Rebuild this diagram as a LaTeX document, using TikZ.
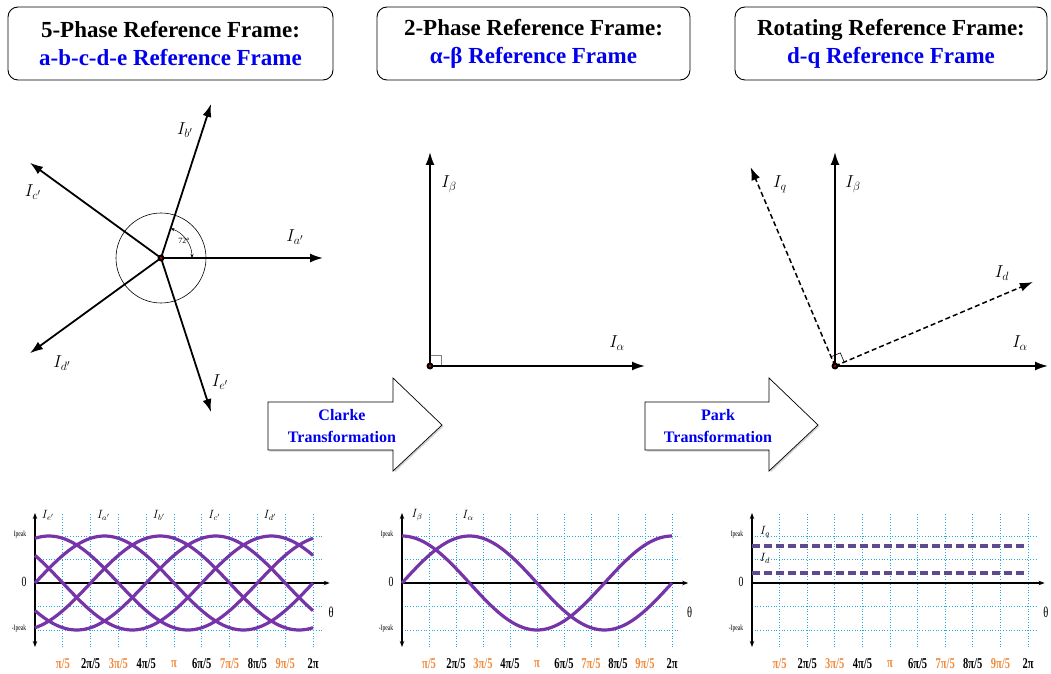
\documentclass[tikz,border=0pt]{standalone}
\usepackage{fontspec}
\setmainfont{Liberation Serif}
\newfontfamily\estrecha[FakeStretch=0.7]{Liberation Serif}
\usepackage{tikz}
\usetikzlibrary{arrows.meta,shadows}
\definecolor{azultit}{HTML}{0000EE}
\definecolor{morado}{HTML}{7534A8}
\definecolor{moradodq}{HTML}{5E4A8E}
\definecolor{celeste}{HTML}{1FA8E0}
\definecolor{naranja}{HTML}{F0883A}
\tikzset{
  marco/.style={rectangle, rounded corners=10pt, draw, line width=0.9pt,
    minimum height=73pt, align=center, inner sep=2pt,
    font=\bfseries\fontsize{23}{28}\selectfont},
  fasor/.style={-{Latex[length=13pt,width=9pt]}, line width=1.8pt},
  fasordq/.style={fasor, line width=1.5pt, dash pattern=on 5pt off 3pt},
  etiq/.style={font=\fontsize{18}{20}\selectfont},
  flechagorda/.style={draw, line width=0.7pt, fill=white,
    drop shadow={shadow xshift=1.5pt, shadow yshift=-1.5pt, fill=gray!70}},
  txtflecha/.style={align=center, text=azultit,
    font=\bfseries\fontsize{16}{22}\selectfont},
  rejilla/.style={celeste, line width=0.7pt, dotted},
  eje/.style={line width=1.5pt},
  curva/.style={morado, line width=3.2pt},
  nivel/.style={moradodq, line width=4pt, dash pattern=on 8pt off 4pt},
  marca/.style={font=\estrecha\bfseries\fontsize{15}{17}\selectfont},
  etiqg/.style={font=\fontsize{12}{14}\selectfont},
  pico/.style={font=\estrecha\fontsize{8}{9}\selectfont},
}

\begin{document}
\begin{tikzpicture}[x=1pt, y=1pt]
    \useasboundingbox (0,0) rectangle (1051,673);
    % Titulos
    \node[marco, minimum width=325pt] (t5) at (170.5,629.5)
      {5-Phase Reference Frame:\\\textcolor{azultit}{a-b-c-d-e Reference Frame}};
    \node[marco, minimum width=313pt] (t2) at (533.5,629.5)
      {2-Phase Reference Frame:\\\textcolor{azultit}{α-β Reference Frame}};
    \node[marco, minimum width=312pt] (trot) at (891,629.5)
      {Rotating Reference Frame:\\\textcolor{azultit}{d-q Reference Frame}};

    % Fasores 5 fases
    \coordinate (o1) at (161,415);
    \draw[line width=0.6pt] (o1) circle[radius=45];
    \foreach \k/\nm in {0/a,1/b,2/c,3/d,4/e}{
      \path (o1) ++(\k*72:162) coordinate (p\nm);
      \draw[fasor] (o1) -- (p\nm);
    }
    \draw[line width=0.5pt, {Stealth[length=4pt]}-{Stealth[length=4pt]}]
      ([shift={(0:31)}]o1) arc[start angle=0, end angle=72, radius=31];
    \node[font=\fontsize{8}{9}\selectfont] (ang) at (184,432) {72°};
    \node[etiq] (la1) at (295,436) {$I_{a'}$};
    \node[etiq] (lb1) at (185,543) {$I_{b'}$};
    \node[etiq] (lc1) at (33,481) {$I_{c'}$};
    \node[etiq] (ld1) at (62,310) {$I_{d'}$};
    \node[etiq] (le1) at (220,291) {$I_{e'}$};
    \fill (o1) circle[radius=3.5];
    \fill[red] (o1) circle[radius=1.2];

    % Marco alfa-beta
    \coordinate (o2) at (430,307);
    \coordinate (b2) at (430,521);
    \coordinate (a2) at (645,307);
    \draw[gray, line width=0.5pt] (o2) rectangle ++(11,11);
    \draw[fasor] (o2) -- (b2);
    \draw[fasor] (o2) -- (a2);
    \node[etiq] (lb2) at (449,489) {$I_\beta$};
    \node[etiq] (la2) at (617,330) {$I_\alpha$};
    \fill (o2) circle[radius=3.5];
    \fill[red] (o2) circle[radius=1.2];

    % Marco d-q
    \coordinate (o3) at (835,307);
    \coordinate (b3) at (835,521);
    \coordinate (a3) at (1048,307);
    \path (o3) ++(23:215) coordinate (d3);
    \path (o3) ++(113:216) coordinate (q3);
    \draw[line width=0.6pt] ([shift={(23:10)}]o3) -- ++(113:10) -- ++(203:10);
    \draw[fasor] (o3) -- (b3);
    \draw[fasor] (o3) -- (a3);
    \draw[fasordq] (o3) -- (d3);
    \draw[fasordq] (o3) -- (q3);
    \node[etiq] (lq3) at (780,489) {$I_q$};
    \node[etiq] (lb3) at (853,489) {$I_\beta$};
    \node[etiq] (ld3) at (1002,400) {$I_d$};
    \node[etiq] (la3) at (1020,330) {$I_\alpha$};
    \fill (o3) circle[radius=3.5];
    \fill[red] (o3) circle[radius=1.2];

    % Flechas de transformacion
    \draw[flechagorda] (268,223) -- (393,223) -- (393,202) -- (442,248)
      -- (393,295) -- (393,271) -- (268,271) -- cycle;
    \node[txtflecha] (clarke) at (342,247) {Clarke\\Transformation};
    \draw[flechagorda] (645,223) -- (769,223) -- (769,202) -- (818,248)
      -- (769,295) -- (769,271) -- (645,271) -- cycle;
    \node[txtflecha] (park) at (718,247) {Park\\Transformation};

    % Ejes y rejillas de las graficas
    \foreach \ox/\dx/\g in {35/27.8/1, 402/27/2, 752/27.6/3}{
      \begin{scope}[shift={(\ox,90)}]
        \foreach \k in {1,...,10}
          \draw[rejilla] (\k*\dx,-64) -- (\k*\dx,70);
        \foreach \v in {-47,-23.5,23.5,47}
          \draw[rejilla] (0,\v) -- (10.3*\dx,\v);
        \draw[eje, {Stealth[length=6pt]}-{Stealth[length=6pt]}] (0,-64) -- (0,70);
        \draw[eje, -{Stealth[length=6pt]}] (0,0) -- (10.6*\dx,0);
        \node[pico] (pp\g) at (-15,48) {Ipeak};
        \node[pico] (pn\g) at (-16,-46) {-Ipeak};
        \node[font=\estrecha\fontsize{14}{16}\selectfont] (cero\g) at (-11,1) {0};
        \node[font=\estrecha\fontsize{15}{17}\selectfont] (th\g) at (10.65*\dx,-29) {θ};
        \foreach \k/\lab/\col in {1/{π/5}/naranja, 2/{2π/5}/black, 3/{3π/5}/naranja,
            4/{4π/5}/black, 5/{π}/naranja, 6/{6π/5}/black, 7/{7π/5}/naranja,
            8/{8π/5}/black, 9/{9π/5}/naranja, 10/{2π}/black}
          \node[marca, text=\col] (tk\g-\k) at (\k*\dx,-81) {\lab};
      \end{scope}
    }

    % Corrientes de 5 fases
    \begin{scope}[shift={(35,90)}]
      \foreach \k in {0,...,4}
        \draw[curva] plot[domain=0:360, samples=90] ({\x*27.8/36},{47*sin(\x+\k*72)});
      \foreach \k/\s in {0/e,1/a,2/b,3/c,4/d}
        \node[etiqg] (g1\s) at (13+\k*55.5,68) {$I_{\s'}$};
    \end{scope}

    % Corrientes alfa-beta
    \begin{scope}[shift={(402,90)}]
      \draw[curva] plot[domain=0:360, samples=90] ({\x*27/36},{47*sin(\x)});
      \draw[curva] plot[domain=0:360, samples=90] ({\x*27/36},{47*cos(\x)});
      \node[etiqg] (g2b) at (15,68) {$I_\beta$};
      \node[etiqg] (g2a) at (66,68) {$I_\alpha$};
    \end{scope}

    % Corrientes d-q
    \begin{scope}[shift={(752,90)}]
      \coordinate (q0) at (0,37);
      \coordinate (q1) at (276,37);
      \coordinate (d0) at (0,10);
      \coordinate (d1) at (276,10);
      \draw[nivel] (q0) -- (q1);
      \draw[nivel] (d0) -- (d1);
      \node[etiqg] (g3q) at (13,51) {$I_q$};
      \node[etiqg] (g3d) at (13,25) {$I_d$};
    \end{scope}
  \end{tikzpicture}
\end{document}
